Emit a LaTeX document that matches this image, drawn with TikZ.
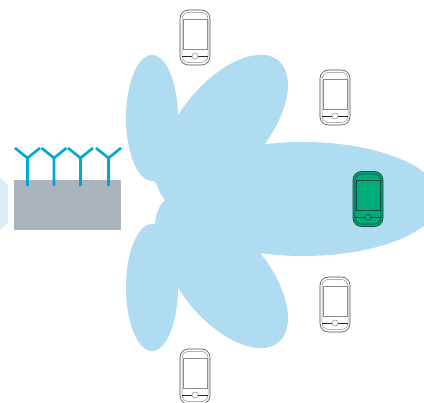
\documentclass[tikz,border=0pt]{standalone}
\definecolor{lobe}{RGB}{175,220,241}
\definecolor{hexc}{RGB}{220,237,250}
\definecolor{base}{RGB}{172,180,187}
\definecolor{ant}{RGB}{0,166,214}
\definecolor{phg}{RGB}{0,172,122}
\definecolor{phl}{RGB}{20,70,70}
\tikzset{
 lobefill/.style={fill=lobe,draw=none},
 phoneline/.style={draw=black!70,line width=0.6pt},
 phonesoft/.style={draw=black!45,line width=0.5pt},
 phonebar/.style={draw=black!85,line width=0.9pt},
 phonebody/.style={fill=white},
 antenna/.pic={\draw[ant,line width=2.6pt] (0,0) -- (0,-28) (-12.5,-38) -- (0,-28) -- (12.5,-38);},
 phone/.pic={
  \draw[phoneline,phonebody,rounded corners=8.5pt] (-15,-28) rectangle (15,27);
  \draw[phonesoft,rounded corners=6.5pt] (-13,-25.5) rectangle (13,24.5);
  \draw[phonesoft] (-12,-19) rectangle (12,11);
  \draw[phonebar] (-13,18) -- (-3,18) (3,18) -- (13,18);
  \draw[phonesoft] (0,18) circle (3);
 },
}
\begin{document}
\begin{tikzpicture}[x=1pt,y=-1pt]
\useasboundingbox (0,0) rectangle (424,403);
\fill[hexc] (0,178) -- (8,185) -- (8,223) -- (0,230) -- cycle;
\begin{scope}
\clip (0,0) rectangle (424,403);
\fill[lobefill] (152,118) ellipse[x radius=26,y radius=63];
\fill[lobefill] (152,287.5) ellipse[x radius=26,y radius=63.5];
\fill[lobefill,rotate around={50:(224.5,125)}] (224.5,125) ellipse[x radius=84,y radius=43.5];
\fill[lobefill,rotate around={-50:(224.5,278)}] (224.5,278) ellipse[x radius=84,y radius=43.5];
\fill[lobefill] (303,199) ellipse[x radius=137,y radius=57];
\fill[lobefill] (185,158) -- (154,181) .. controls (158,184) and (158,192) .. (165,200) .. controls (158,207) and (156,214) .. (155,224) -- (185,246) -- (230,246) -- (230,158) -- cycle;
\end{scope}
\fill[base] (14,180) rectangle (121,230);
\path (27.5,186) pic {antenna} (54,186) pic {antenna} (80.5,186) pic {antenna} (108.5,186) pic {antenna};
\path (195,38) pic {phone};
\path (335,98) pic {phone};
\path (335,305) pic {phone};
\path (195,377) pic {phone};
\begin{scope}[phoneline/.style={draw=phl,line width=0.7pt},phonesoft/.style={draw=phl,line width=0.6pt},phonebar/.style={draw=phl,line width=0.9pt},phonebody/.style={fill=phg}]
\path (368,199.5) pic {phone};
\end{scope}
\end{tikzpicture}
\end{document}
